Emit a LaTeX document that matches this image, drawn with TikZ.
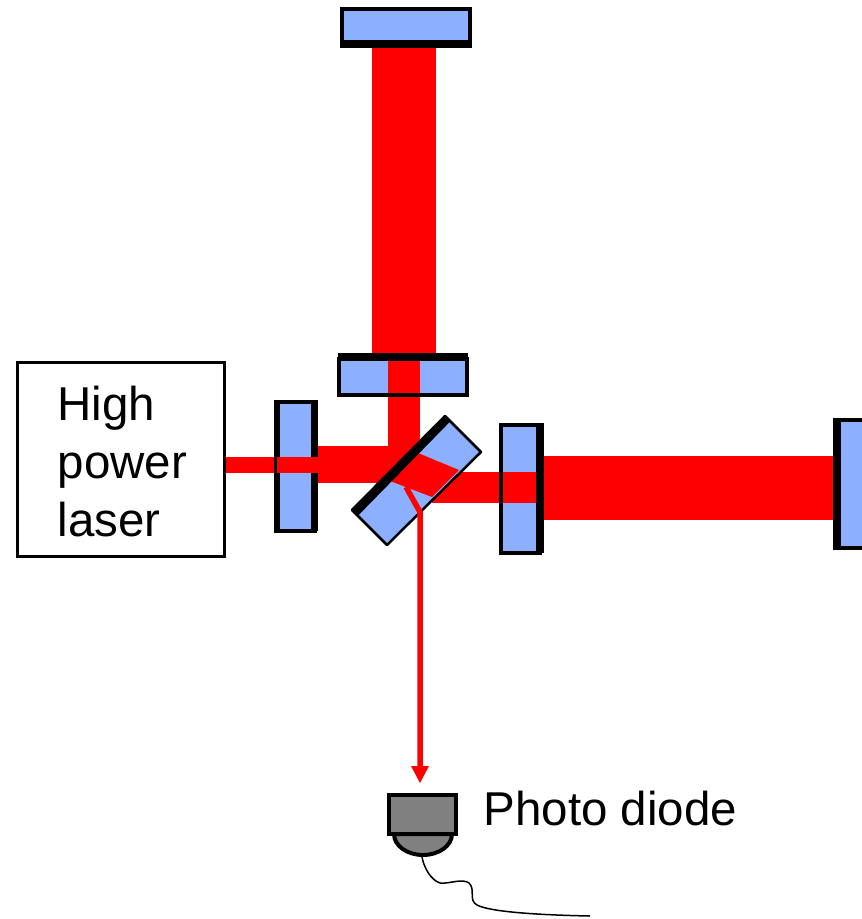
\documentclass[tikz,border=0pt]{standalone}
\usepackage{fontspec}
\setmainfont{Liberation Sans}
\usetikzlibrary{arrows.meta}
\definecolor{mirrorblue}{HTML}{8CB0FF}
\definecolor{diodegray}{HTML}{808080}
\begin{document}
\begin{tikzpicture}[x=1pt, y=-1pt, font=\fontsize{47.5}{58}\selectfont,
    label/.style={anchor=base west, inner sep=0pt},
    mirror/.style={fill=mirrorblue, draw=black, line width=4pt}]
  \useasboundingbox (0,0) rectangle (862,919);
  % beams
  \fill[red] (372,48) rectangle (436,355);
  \fill[red] (388,355) rectangle (420,460);
  \fill[red] (224,457) rectangle (280,473);
  \fill[red] (318,446) rectangle (420,483);
  \fill[red] (432,472) rectangle (500,503);
  \fill[red] (544,456) rectangle (834,520);
  % mirrors
  \foreach \xa/\ya/\xb/\yb in {342/9/470/44, 339/359/467/395, 276/402/315/531, 501/425/540/553} {
    \draw[mirror] (\xa,\ya) rectangle (\xb,\yb);
  }
  \fill[mirrorblue] (841,422) rectangle (862,546);
  \fill (833,418) rectangle (862,422);
  \fill (833,546) rectangle (862,550);
  \fill (833,418) rectangle (841,550);
  \fill (340,40) rectangle (472,48);
  \fill (338,353) rectangle (468,361);
  \fill (274,400) rectangle (280,533);
  \fill (311,400) rectangle (318,531);
  \fill (536,423) rectangle (544,553);
  % beam through the substrates
  \fill[red] (388,361) rectangle (420,393);
  \fill[red] (277,457) rectangle (318,473);
  \fill[red] (503,472) rectangle (536,503);
  % beam splitter
  \draw[fill=mirrorblue, line width=2.5pt, line join=round] (445,416) -- (481,452) -- (387,545) -- (352,510) -- cycle;
  \fill[red] (418,453) -- (459,470) -- (432,497) -- (390,481) -- cycle;
  \draw[black, line width=8pt] (355,513) -- (447,419);
  % output beam
  \coordinate (splitout) at (406,487);
  \coordinate (kink) at (420,512);
  \coordinate (diodein) at (420,783);
  \draw[red, line width=5.5pt] (splitout) -- (kink) -- (420,766);
  \fill[red] (411,766) -- (429,766) -- (diodein) -- cycle;
  % laser
  \draw[line width=3pt, fill=white] (17,362) rectangle (224,556);
  \node[label] (high) at (57.5,420) {High};
  \node[label] (power) at (57.5,478) {power};
  \node[label] (laser) at (57.5,536) {laser};
  % photo diode
  \draw[line width=4pt, fill=diodegray] (394,834) arc[start angle=180, end angle=360, x radius=29, y radius=-21] -- cycle;
  \draw[line width=3.5pt, fill=diodegray] (389,795) rectangle (456,834);
  \node[label] (diode) at (483.5,825) {Photo diode};
  \draw[line width=1.5pt] (422,857) .. controls (424,868) and (431,880) .. (440,883)
    .. controls (450,884) and (462,878) .. (469,883)
    .. controls (476,890) and (468,900) .. (477,905)
    .. controls (490,912) and (540,915) .. (590,916);
\end{tikzpicture}
\end{document}
